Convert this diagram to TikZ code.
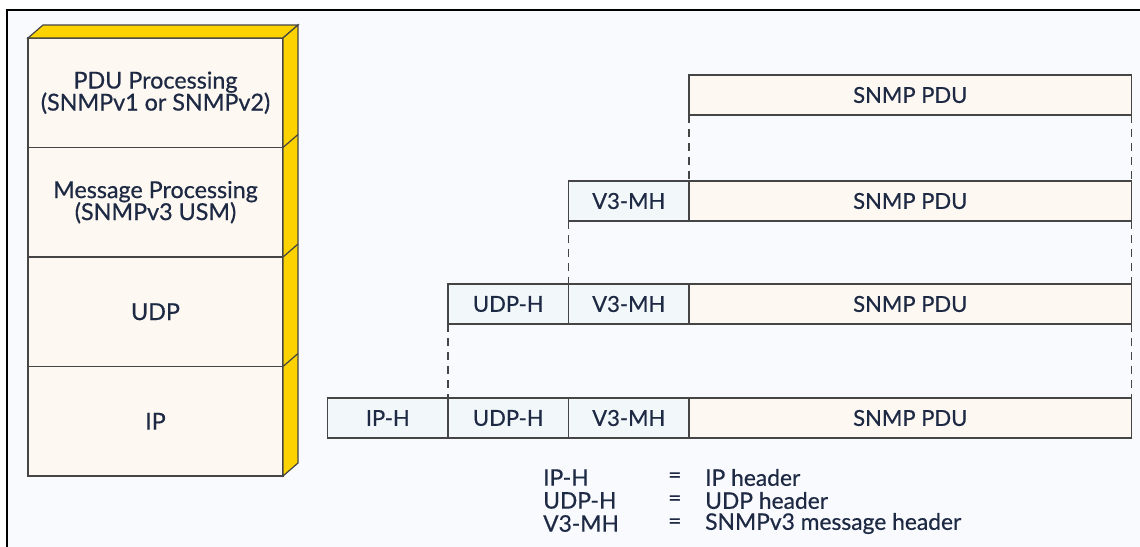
\documentclass[tikz,border=0pt]{standalone}
\usepackage{fontspec}
\setmainfont{Lato}[FakeBold=0.6]
\definecolor{bgc}{HTML}{F8FAFE}
\definecolor{facec}{HTML}{FDF8F2}
\definecolor{hdrc}{HTML}{F2F7FA}
\definecolor{yel}{HTML}{FCD200}
\definecolor{edgec}{HTML}{454545}
\definecolor{inkc}{HTML}{1E2A44}
\begin{document}
\begin{tikzpicture}[x=1pt,y=-1pt,
  every node/.style={text=inkc,font=\fontsize{22}{25}\selectfont},
  layer/.style={draw=edgec,line width=1.6pt,fill=facec,minimum width=255pt,minimum height=109.5pt,inner sep=0pt,outer sep=0pt,align=center,anchor=north west,font=\fontsize{23.3}{25}\selectfont},
  cell/.style={draw=edgec,line width=1.6pt,minimum height=40pt,inner sep=0pt,outer sep=0pt,anchor=north west},
  hdr/.style={cell,fill=hdrc,minimum width=120.5pt},
  pdu/.style={cell,fill=facec,minimum width=442.5pt},
  side/.style={draw=edgec,line width=1.2pt,fill=yel},
  guide/.style={draw=edgec,line width=1.6pt,dash pattern=on 8pt off 6pt},
  legend/.style={anchor=west,inner sep=0pt,font=\fontsize{22.8}{25}\selectfont}]
\useasboundingbox (0,0) rectangle (1140,546);
\fill[white] (0,0) rectangle (1140,546);
\filldraw[fill=bgc,draw=black,line width=2.2pt] (7,560) -- (7,10) -- (1160,10) -- (1160,560) -- cycle;
% stack
\node[layer] (l1) at (28,38) {PDU Processing\\[-3pt](SNMPv1 or SNMPv2)};
\node[layer] (l2) at (28,147.5) {Message Processing\\[-3pt](SNMPv3 USM)};
\node[layer] (l3) at (28,257) {UDP};
\node[layer] (l4) at (28,366.5) {IP};
\filldraw[side] (l1.north west) -- ++(15,-13) -- ++(255,0) -- (l1.north east) -- cycle;
\filldraw[side] (l1.north east) -- ++(15,-13) -- ([shift={(15,-13)}]l4.south east) -- (l4.south east) -- cycle;
\foreach \n in {l1,l2,l3} \draw[edgec,line width=1.2pt] (\n.south east) -- ++(15,-13);
% packets
\node[pdu] (p1) at (689,75) {SNMP PDU};
\node[hdr] (v2) at (568.5,181) {V3-MH};
\node[pdu] (p2) at (v2.north east) {SNMP PDU};
\node[hdr] (u3) at (448,284) {UDP-H};
\node[hdr] (v3) at (u3.north east) {V3-MH};
\node[pdu] (p3) at (v3.north east) {SNMP PDU};
\node[hdr] (i4) at (327.5,398) {IP-H};
\node[hdr] (u4) at (i4.north east) {UDP-H};
\node[hdr] (v4) at (u4.north east) {V3-MH};
\node[pdu] (p4) at (v4.north east) {SNMP PDU};
% guides
\draw[guide] (p1.south west) -- (p2.north west);
\draw[guide] (p1.south east) -- (p2.north east);
\draw[guide] (v2.south west) -- (v3.north west);
\draw[guide] (p2.south east) -- (p3.north east);
\draw[guide] (u3.south west) -- (u4.north west);
\draw[guide] (p3.south east) -- (p4.north east);
% legend
\node[legend] (a1) at (543,477.5) {IP-H};
\node[legend] (a2) at (543,500.5) {UDP-H};
\node[legend] (a3) at (543,523.5) {V3-MH};
\node[legend] (e1) at (668,477.5) {=};
\node[legend] (e2) at (668,500.5) {=};
\node[legend] (e3) at (668,523.5) {=};
\node[legend] (b1) at (705,477.5) {IP header};
\node[legend] (b2) at (705,500.5) {UDP header};
\node[legend] (b3) at (705,523.5) {SNMPv3 message header};
\end{tikzpicture}
\end{document}
